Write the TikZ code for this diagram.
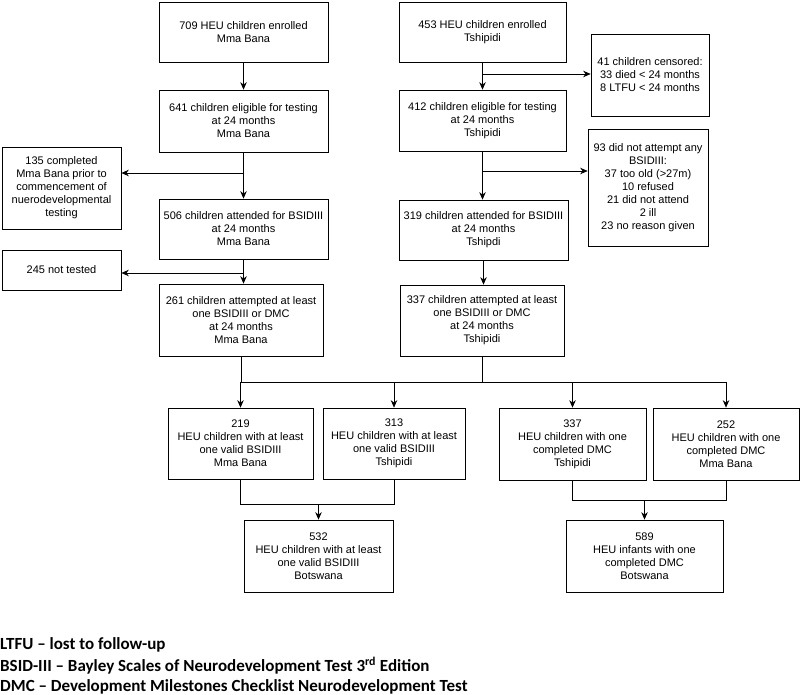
\documentclass[tikz,border=0pt]{standalone}
\usepackage{fontspec}
\usepackage{tikz}
\usetikzlibrary{arrows.meta}
\setmainfont{Liberation Sans}
\newfontfamily\legendfont{Carlito}
\tikzset{
    flow-box/.style = {draw=black, fill=white, line width=0.7pt, rectangle, align=center, inner sep=2pt, font=\fontsize{11}{13}\selectfont},
    flow-arrow/.style = {line width=0.7pt, -{Stealth[length=7.5pt,width=6.5pt]}},
    flow-line/.style = {line width=0.7pt},
    legend-text/.style = {anchor=west, inner sep=0pt, font=\legendfont\bfseries\fontsize{17}{20}\selectfont},
}
\begin{document}
\begin{tikzpicture}[x=1pt,y=-1pt]
\useasboundingbox (0,0) rectangle (800,695);
% Mma Bana column
\node[flow-box, minimum width=169pt, minimum height=60pt] (A1) at (243.5,32) {709 HEU children enrolled\\Mma Bana};
\node[flow-box, minimum width=169pt, minimum height=62pt] (A2) at (243.5,121) {641 children eligible for testing\\at 24 months\\Mma Bana};
\node[flow-box, minimum width=169pt, minimum height=60pt] (A3) at (243.5,229) {506 children attended for BSIDIII\\at 24 months\\Mma Bana};
\node[flow-box, minimum width=164pt, minimum height=72pt] (A4) at (241,320) {261 children attempted at least\\one BSIDIII or DMC\\at 24 months\\Mma Bana};
\node[flow-box, minimum width=119pt, minimum height=82pt] (L1) at (61.5,188) {135 completed\\Mma Bana prior to\\commencement of\\nuerodevelopmental\\testing};
\node[flow-box, minimum width=119pt, minimum height=40pt] (L2) at (61.5,270) {245 not tested};
% Tshipidi column
\node[flow-box, minimum width=167pt, minimum height=60pt] (B1) at (482.5,32) {453 HEU children enrolled\\Tshipidi};
\node[flow-box, minimum width=167pt, minimum height=61pt] (B2) at (482.5,120.5) {412 children eligible for testing\\at 24 months\\Tshipidi};
\node[flow-box, minimum width=169pt, minimum height=60pt] (B3) at (483.5,230) {319 children attended for BSIDIII\\at 24 months\\Tshipdi};
\node[flow-box, minimum width=164pt, minimum height=71pt] (B4) at (482,320.5) {337 children attempted at least\\one BSIDIII or DMC\\at 24 months\\Tshipidi};
\node[flow-box, minimum width=118pt, minimum height=82pt] (R1) at (650,75) {41 children censored:\\33 died < 24 months\\8 LTFU < 24 months};
\node[flow-box, minimum width=120pt, minimum height=117pt] (R2) at (648,187.5) {93 did not attempt any\\BSIDIII:\\37 too old (>27m)\\10 refused\\21 did not attend\\2 ill\\23 no reason given};
% outcome boxes
\node[flow-box, minimum width=145pt, minimum height=71pt] (C1) at (240.5,443.5) {219\\HEU children with at least\\one valid BSIDIII\\Mma Bana};
\node[flow-box, minimum width=142pt, minimum height=71pt] (C2) at (394,443.5) {313\\HEU children with at least\\one valid BSIDIII\\Tshipidi};
\node[flow-box, minimum width=147pt, minimum height=72pt] (C3) at (572.5,444) {337\\HEU children with one\\completed DMC\\Tshipidi};
\node[flow-box, minimum width=146pt, minimum height=72pt] (C4) at (726,444) {252\\HEU children with one\\completed DMC\\Mma Bana};
\node[flow-box, minimum width=149pt, minimum height=72pt] (D1) at (318.5,556) {532\\HEU children with at least\\one valid BSIDIII\\Botswana};
\node[flow-box, minimum width=157pt, minimum height=72pt] (D2) at (644.5,556) {589\\HEU infants with one\\completed DMC\\Botswana};
% legend
\node[legend-text] (leg1) at (0,645) {LTFU – lost to follow-up};
\node[legend-text] (leg2) at (0,666) {BSID-III – Bayley Scales of Neurodevelopment Test 3\textsuperscript{rd} Edition};
\node[legend-text] (leg3) at (0,687) {DMC – Development Milestones Checklist Neurodevelopment Test};
% connectors
\coordinate (s1) at (243.5,173);
\coordinate (s2) at (243.5,273);
\coordinate (s3) at (482.5,74);
\coordinate (s4) at (482.5,171);
\coordinate (bus) at (0,382);
\coordinate (m1) at (0,504);
\coordinate (m2) at (0,500);
\draw[flow-arrow] (A1) -- (A2);
\draw[flow-arrow] (A2) -- (A3);
\draw[flow-arrow] (A3.south) -- (A3.south |- A4.north);
\draw[flow-arrow] (s1) -- (s1 -| L1.east);
\draw[flow-arrow] (s2) -- (s2 -| L2.east);
\draw[flow-arrow] (B1) -- (B2);
\draw[flow-arrow] (B2.south) -- (B2.south |- B3.north);
\draw[flow-arrow] (B3.south) -- (B3.south |- B4.north);
\draw[flow-arrow] (s3) -- (s3 -| R1.west);
\draw[flow-arrow] (s4) -- (s4 -| R2.west);
\draw[flow-line] (A4.south) -- (A4.south |- bus);
\draw[flow-line] (B4.south) -- (B4.south |- bus);
\draw[flow-line] (C1.north |- bus) -- (C4.north |- bus);
\foreach \n in {C1,C2,C3,C4}
    \draw[flow-arrow] (\n.north |- bus) -- (\n.north);
\draw[flow-line] (C1.south) -- (C1.south |- m1) -- (D1.north |- m1);
\draw[flow-line] (C2.south) -- (C2.south |- m1) -- (D1.north |- m1);
\draw[flow-arrow] (D1.north |- m1) -- (D1.north);
\draw[flow-line] (C3.south) -- (C3.south |- m2) -- (D2.north |- m2);
\draw[flow-line] (C4.south) -- (C4.south |- m2) -- (D2.north |- m2);
\draw[flow-arrow] (D2.north |- m2) -- (D2.north);
\end{tikzpicture}
\end{document}
